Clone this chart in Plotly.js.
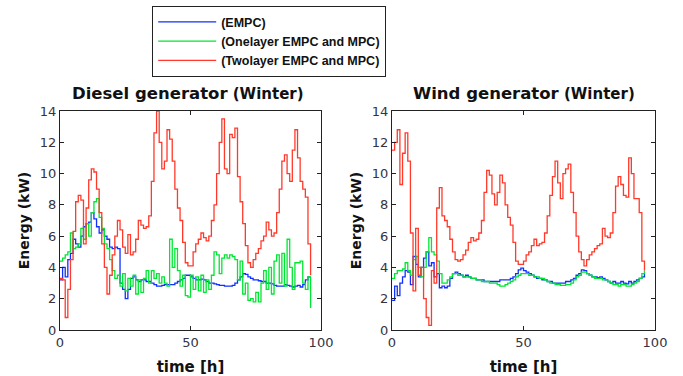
<!DOCTYPE html>
<html>
<head>
<meta charset="utf-8">
<script src="https://cdn.plot.ly/plotly-3.0.1.min.js"></script>
<style>html,body{margin:0;padding:0;background:#fff;}#chart{width:683px;height:376px;}</style>
</head>
<body>
<div id="chart"></div>
<script>
// time in hours
const hours = Array.from({length: 97}, (_, i) => i);

const seriesNames = ['(EMPC)', '(Onelayer EMPC and MPC)', '(Twolayer EMPC and MPC)'];
const seriesColors = ['#1030ff', '#00e632', '#ff3a2a'];

// Diesel generator (Winter)
const dieselEMPC = [3.2,4.0,3.4,4.5,4.9,5.8,5.5,5.3,6.0,6.6,6.8,6.9,7.5,7.1,6.6,6.2,6.4,6.0,5.8,5.3,5.2,5.3,5.2,3.0,2.6,2.0,2.6,3.3,3.4,3.2,3.1,3.2,3.2,3.1,3.1,3.0,2.9,2.8,2.8,2.85,2.9,2.9,2.9,2.9,3.0,3.1,3.2,3.3,3.5,3.5,3.4,3.3,3.2,3.2,3.25,3.2,3.1,3.0,3.0,2.95,2.9,2.85,2.85,2.8,2.8,2.8,2.85,3.0,3.2,3.4,3.6,3.55,3.4,3.3,3.2,3.2,3.15,3.1,3.1,3.0,3.0,2.95,2.85,2.8,2.8,2.8,2.9,2.85,2.8,2.75,2.8,2.85,2.75,2.9,3.2,3.4,3.4];
const dieselOne = [4.4,4.6,4.8,5.0,6.2,5.2,5.3,5.5,6.5,5.8,6.8,6.0,7.5,8.2,8.4,7.2,6.5,5.5,5.2,4.5,3.8,3.3,3.5,2.8,3.6,2.5,3.3,2.8,3.5,2.3,3.2,2.4,3.3,3.8,3.0,3.8,3.3,3.6,3.0,3.4,3.0,2.8,5.8,4.0,5.2,3.8,2.8,3.5,2.2,2.1,3.5,2.6,3.4,2.5,3.5,2.4,3.2,2.6,3.5,5.0,4.8,3.6,4.6,4.8,4.6,4.8,4.7,4.5,3.2,4.4,2.3,3.0,1.9,2.0,1.8,2.4,1.8,3.0,3.8,2.6,4.0,2.3,4.4,4.8,3.0,4.9,2.8,5.8,4.0,2.6,4.3,4.3,4.4,3.0,2.6,3.4,1.4];
const dieselTwo = [3.3,3.2,0.8,2.6,4.5,6.3,8.2,8.6,8.3,5.5,7.8,9.6,10.3,10.1,9.0,7.5,5.5,4.0,2.3,3.5,4.8,6.0,7.0,6.4,5.3,4.9,6.1,4.8,5.0,5.8,7.0,6.7,6.5,6.6,7.3,9.5,12.6,14.0,12.0,10.3,10.8,12.8,12.2,10.8,9.0,7.8,7.0,5.6,4.3,4.1,4.1,5.0,5.5,5.8,6.2,5.9,5.7,6.0,7.0,8.0,10.0,12.0,13.5,10.3,10.0,12.5,12.3,12.9,9.8,8.2,6.8,5.4,4.3,4.0,4.5,4.9,5.2,5.7,6.0,6.9,6.4,6.0,6.2,7.5,9.0,10.8,11.2,10.0,9.5,11.5,12.8,11.0,9.5,9.0,8.5,5.5,3.5];

// Wind generator (Winter)
const windEMPC = [1.9,2.8,2.2,3.0,3.4,3.8,3.7,2.9,4.7,4.2,3.4,4.0,4.6,5.0,4.1,4.3,3.4,3.6,2.7,2.8,2.7,2.8,3.3,3.6,3.7,3.6,3.5,3.4,3.5,3.4,3.3,3.3,3.2,3.2,3.2,3.1,3.1,3.1,3.1,3.1,3.1,3.2,3.2,3.2,3.2,3.3,3.4,3.6,3.85,3.95,3.8,3.7,3.6,3.5,3.4,3.3,3.3,3.2,3.2,3.1,3.1,3.0,3.0,3.0,3.0,3.0,3.1,3.1,3.2,3.3,3.5,3.6,3.85,3.8,3.6,3.5,3.4,3.4,3.35,3.4,3.3,3.2,3.1,3.0,3.1,3.0,3.0,3.1,3.0,2.95,3.1,3.0,3.1,3.2,3.3,3.4,3.6];
const windOne = [3.3,3.6,3.8,3.8,3.9,4.3,3.8,3.5,4.5,4.7,4.0,3.4,4.0,5.0,5.9,5.0,4.8,4.4,3.6,3.0,3.0,3.2,3.4,3.6,3.6,3.5,3.5,3.4,3.4,3.4,3.3,3.3,3.2,3.2,3.1,3.1,3.1,3.0,3.0,3.0,2.9,2.8,2.8,2.9,3.0,3.1,3.2,3.4,3.5,3.6,3.6,3.6,3.5,3.5,3.4,3.4,3.3,3.3,3.2,3.1,3.0,3.0,2.9,2.9,2.85,2.85,2.9,2.9,3.0,3.2,3.4,3.5,3.7,3.7,3.6,3.5,3.4,3.3,3.3,3.3,3.2,3.2,3.1,3.0,2.9,2.9,2.8,2.9,2.9,2.8,2.8,2.9,3.0,3.1,3.3,3.6,3.8];
const windTwo = [11.5,12.0,12.8,9.3,11.3,12.6,10.8,6.2,2.5,6.5,3.5,4.0,2.0,0.8,0.3,3.8,3.0,7.8,9.1,7.3,7.0,6.6,5.8,5.0,4.5,4.4,4.5,4.8,5.1,5.6,5.9,5.7,5.8,6.2,7.0,8.8,10.2,9.9,8.7,8.0,8.8,9.9,9.4,8.0,7.2,6.7,5.6,4.4,4.2,4.2,4.4,4.8,5.0,5.4,5.8,5.4,5.5,5.6,6.2,7.3,8.6,9.8,10.8,9.4,8.4,10.0,10.3,10.6,8.8,7.5,6.0,5.0,4.5,4.1,4.5,4.8,5.0,5.2,5.4,5.5,6.5,6.0,5.9,6.2,7.5,9.2,9.8,9.3,8.6,8.5,11.0,10.0,8.4,8.4,7.5,4.4,3.8];

const xTickVals = [0, 50, 100];
const yTickVals = [0, 2, 4, 6, 8, 10, 12, 14];

const dieselData = [dieselEMPC, dieselOne, dieselTwo];
const windData = [windEMPC, windOne, windTwo];

const traces = [];
dieselData.forEach((ys, i) => traces.push({
  x: hours, y: ys, type: 'scatter', mode: 'lines', name: seriesNames[i],
  line: {color: seriesColors[i], width: 1.3, shape: 'hv'}, xaxis: 'x', yaxis: 'y', showlegend: true
}));
windData.forEach((ys, i) => traces.push({
  x: hours, y: ys, type: 'scatter', mode: 'lines', name: seriesNames[i],
  line: {color: seriesColors[i], width: 1.3, shape: 'hv'}, xaxis: 'x2', yaxis: 'y2', showlegend: false
}));

const fontFam = 'Liberation Sans, Arial, sans-serif';
const wideFam = 'DejaVu Sans, Verdana, sans-serif';
const axisCommon = {
  showline: true, linecolor: '#222', linewidth: 1.2, mirror: 'ticks',
  ticks: 'inside', ticklen: 4, tickcolor: '#222', tickwidth: 1.2,
  showgrid: false, zeroline: false,
  tickfont: {family: wideFam, size: 13, color: '#333344'}
};
const xCommon = Object.assign({}, axisCommon, {
  range: [0, 100], tickvals: xTickVals, ticktext: xTickVals.map(String),
  title: {text: 'time [h]', font: {family: wideFam, size: 15, color: '#111', weight: 'bold'}, standoff: 12}
});
const yCommon = Object.assign({}, axisCommon, {
  range: [0, 14], tickvals: yTickVals, ticktext: yTickVals.map(String),
  title: {text: 'Energy (kW)', font: {family: wideFam, size: 14, color: '#111', weight: 'bold'}, standoff: 6}
});

const layout = {
  width: 683, height: 376,
  margin: {l: 60, r: 28, t: 111, b: 46, autoexpand: false},
  paper_bgcolor: '#fff', plot_bgcolor: '#fff',
  xaxis: Object.assign({}, xCommon, {domain: [0, 0.4387], anchor: 'y', automargin: false}),
  yaxis: Object.assign({}, yCommon, {domain: [0, 1], anchor: 'x', automargin: false}),
  xaxis2: Object.assign({}, xCommon, {domain: [0.558, 1], anchor: 'y2', automargin: false}),
  yaxis2: Object.assign({}, yCommon, {domain: [0, 1], anchor: 'x2', automargin: false}),
  legend: {
    x: 0.1546, y: 1.479, xanchor: 'left', yanchor: 'top',
    bgcolor: '#fff', bordercolor: '#222', borderwidth: 1.2,
    font: {family: fontFam, size: 12.5, color: '#111', weight: 'bold'},
    itemwidth: 58, tracegroupgap: 0
  },
  annotations: [
    {text: '<b>Diesel generator</b><span style="font-size:15px"><b> (Winter)</b></span>',
     xref: 'paper', yref: 'paper', x: 0.215, y: 1.0, yshift: 18, xanchor: 'center', yanchor: 'middle',
     showarrow: false, font: {family: wideFam, size: 16.5, color: '#111'}},
    {text: '<b>Wind generator</b><span style="font-size:15px"><b> (Winter)</b></span>',
     xref: 'paper', yref: 'paper', x: 0.7795, y: 1.0, yshift: 18, xanchor: 'center', yanchor: 'middle',
     showarrow: false, font: {family: wideFam, size: 16.5, color: '#111'}}
  ]
};

Plotly.newPlot('chart', traces, layout, {displayModeBar: false, staticPlot: true});
</script>
</body>
</html>
